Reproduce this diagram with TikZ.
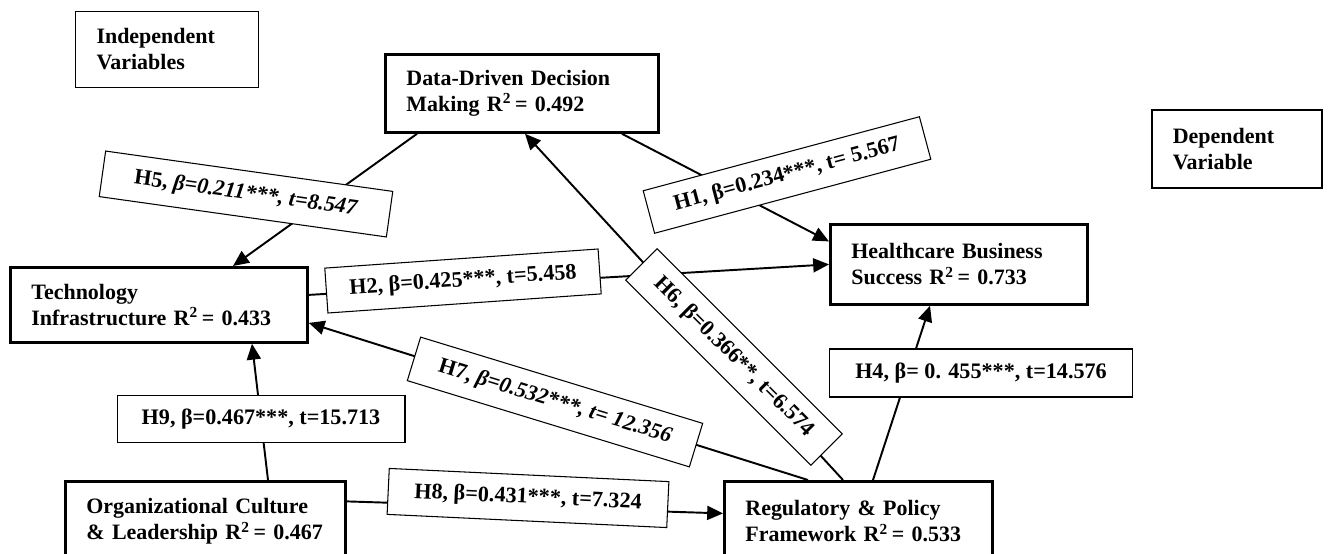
\documentclass[tikz,border=0pt]{standalone}
\usepackage{fontspec}
\setmainfont{Liberation Serif}
\usetikzlibrary{arrows.meta,calc}
\newcommand{\rsq}{R\textsuperscript{2}\,=~}
\tikzset{
  var/.style={draw,line width=1.6pt,fill=white,align=left,anchor=north west,inner xsep=0.42cm,inner ysep=0pt,font=\fontsize{12.5}{14.8}\selectfont\bfseries},
  hyp/.style={draw,line width=0.6pt,fill=white,align=center,inner sep=0pt,font=\fontsize{12.6}{14.8}\selectfont\bfseries},
  arr/.style={-{Triangle[length=9pt,width=8pt]},line width=1.1pt}}

\begin{document}
\begin{tikzpicture}[x=0.02cm,y=-0.02cm]
\useasboundingbox (0,0) rectangle (1333,554);
% constructs
\node[var,line width=0.6pt,text width=2.82cm,minimum height=1.52cm] (indep) at (75,11) {Independent\\Variables};
\node[var,line width=1pt,text width=2.56cm,minimum height=1.56cm] (dep) at (1151,109) {Dependent\\Variable};
\node[var,text width=4.62cm,minimum height=1.56cm] (dddm) at (384,53) {\mbox{Data-Driven Decision}\\\mbox{Making \rsq 0.492}};
\node[var,text width=4.30cm,minimum height=1.60cm] (hbs) at (829,223) {\mbox{Healthcare Business}\\\mbox{Success \rsq 0.733}};
\node[var,text width=5.10cm,minimum height=1.50cm] (ti) at (9,266) {Technology\\\mbox{Infrastructure \rsq 0.433}};
\node[var,text width=4.76cm,minimum height=1.60cm] (ocl) at (64,480) {\mbox{Organizational Culture}\\\mbox{\& Leadership \rsq 0.467}};
\node[var,text width=4.52cm,minimum height=1.60cm] (rpf) at (723,480) {\mbox{Regulatory \& Policy}\\\mbox{Framework \rsq 0.533}};
% paths
\draw[arr] ($(dddm.south west)+(33,0)$) -- ($(ti.north west)+(224,0)$);
\draw[arr] ($(dddm.south west)+(238,0)$) -- ($(hbs.west)+(0,-23)$);
\draw[arr] ($(ti.east)+(0,-10)$) -- (hbs.west);
\draw[arr] ($(rpf.north west)+(120,0)$) -- ($(dddm.south west)+(141,0)$);
\draw[arr] ($(rpf.north west)+(85,0)$) -- ($(ti.east)+(0,18)$);
\draw[arr] ($(rpf.north west)+(150,0)$) -- ($(hbs.south west)+(101,0)$);
\draw[arr] ($(ocl.east)+(0,-20)$) -- ($(rpf.west)+(0,-8)$);
\draw[arr] ($(ocl.north west)+(204,0)$) -- ($(ti.south west)+(243,0)$);
% coefficients
\node[hyp,rotate=-8,minimum width=5.8cm,minimum height=0.92cm] (h5) at (246,194) {H5, \textit{β=0.211***, t=8.547}};
\node[hyp,rotate=15,minimum width=5.72cm,minimum height=0.88cm] (h1) at (787,175) {H1, β=0.234***, t= 5.567};
\node[hyp,rotate=4,minimum width=5.48cm,minimum height=0.9cm] (h2) at (463,281) {H2, β=0.425***, t=5.458};
\node[hyp,rotate=-45,minimum width=5.24cm,minimum height=0.89cm] (h6) at (734,357) {H6, β=0.366**, t=6.574};
\node[hyp,rotate=-17,minimum width=5.9cm,minimum height=0.91cm] (h7) at (555,402) {H7, \textit{β=0.532***, t= 12.356}};
\node[hyp,rotate=-2.7,minimum width=5.6cm,minimum height=0.92cm] (h8) at (528,498) {H8, β=0.431***, t=7.324};
\node[hyp,minimum width=5.76cm,minimum height=0.94cm] (h9) at (261,419) {H9, β=0.467***, t=15.713};
\node[hyp,minimum width=6.06cm,minimum height=0.96cm] (h4) at (981,373) {H4, β= 0. 455***, t=14.576};
\end{tikzpicture}
\end{document}
